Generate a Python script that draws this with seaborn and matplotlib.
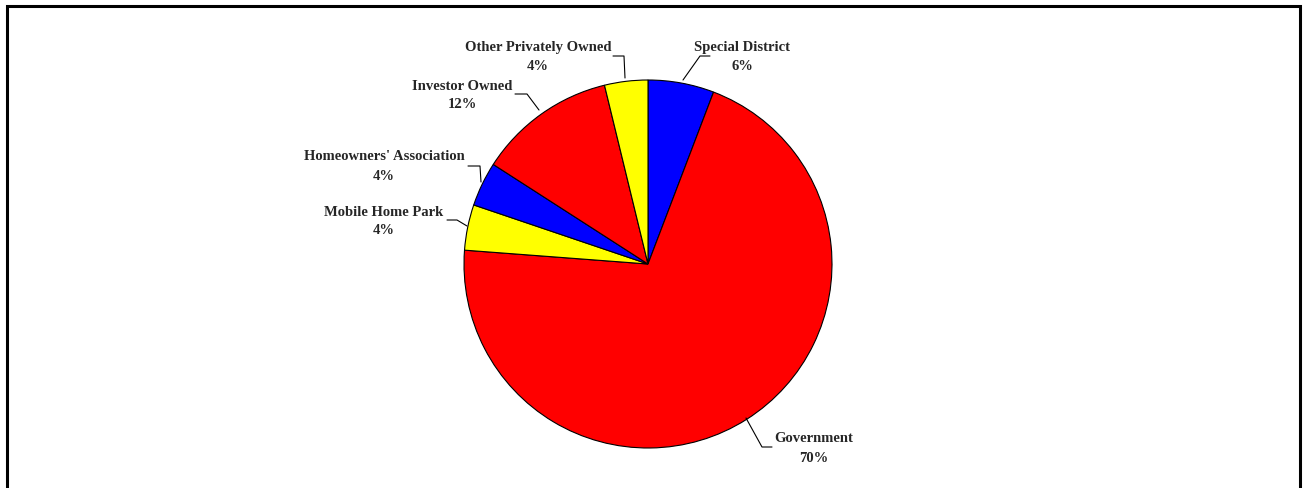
import matplotlib
matplotlib.use("Agg")
import matplotlib.pyplot as plt
import seaborn as sns

sns.set_style("white")
plt.rcParams['font.family'] = ['Liberation Serif', 'DejaVu Serif']

# data, clockwise from 12 o'clock
categories = ["Special District", "Government", "Mobile Home Park",
              "Homeowners' Association", "Investor Owned", "Other Privately Owned"]
shares = [5.8, 70.4, 4.0, 3.9, 12.1, 3.8]
pct_labels = ["6%", "70%", "4%", "4%", "12%", "4%"]
colors = ["#0000FF", "#FF0000", "#FFFF00", "#0000FF", "#FF0000", "#FFFF00"]

W, H = 1303, 488
fig = plt.figure(figsize=(W / 100, H / 100), dpi=100)
ax = fig.add_axes([0, 0, 1, 1])

cx, cy, r = 648, H - 264, 184
wedges, _ = ax.pie(shares, colors=colors, startangle=90, counterclock=False,
                   center=(cx, cy), radius=r,
                   wedgeprops=dict(edgecolor="black", linewidth=0.8))

# label text centres and leader line points (pixels, y from top)
label_pos = {
    "Special District": (742, 48),
    "Government": (814, 439),
    "Mobile Home Park": (384, 212),
    "Homeowners' Association": (384, 157),
    "Investor Owned": (462, 86),
    "Other Privately Owned": (538, 48),
}
leaders = {
    "Special District": [(683, 80), (700, 56), (710, 56)],
    "Government": [(746, 418), (762, 447), (772, 447)],
    "Mobile Home Park": [(467, 226), (457, 220), (447, 220)],
    "Homeowners' Association": [(481, 182), (480, 166), (468, 166)],
    "Investor Owned": [(539, 110), (527, 94), (515, 94)],
    "Other Privately Owned": [(625, 78), (624, 56), (613, 56)],
}

for name, pct in zip(categories, pct_labels):
    x, y = label_pos[name]
    ax.text(x, H - y, name, ha="center", va="center", fontsize=10.5, fontweight="bold")
    ax.text(x, H - y - 19, pct, ha="center", va="center", fontsize=10.5, fontweight="bold")
    pts = leaders[name]
    ax.plot([p[0] for p in pts], [H - p[1] for p in pts], color="black", lw=0.8)

ax.set_xlim(0, W)
ax.set_ylim(0, H)
ax.set_aspect("auto")
ax.axis("off")

# outer chart frame
ax.plot([7, 7, 1300, 1300], [-5, H - 6, H - 6, -5], color="black", lw=2.2,
        solid_joinstyle="miter")

fig.savefig("out.png", dpi=100)
